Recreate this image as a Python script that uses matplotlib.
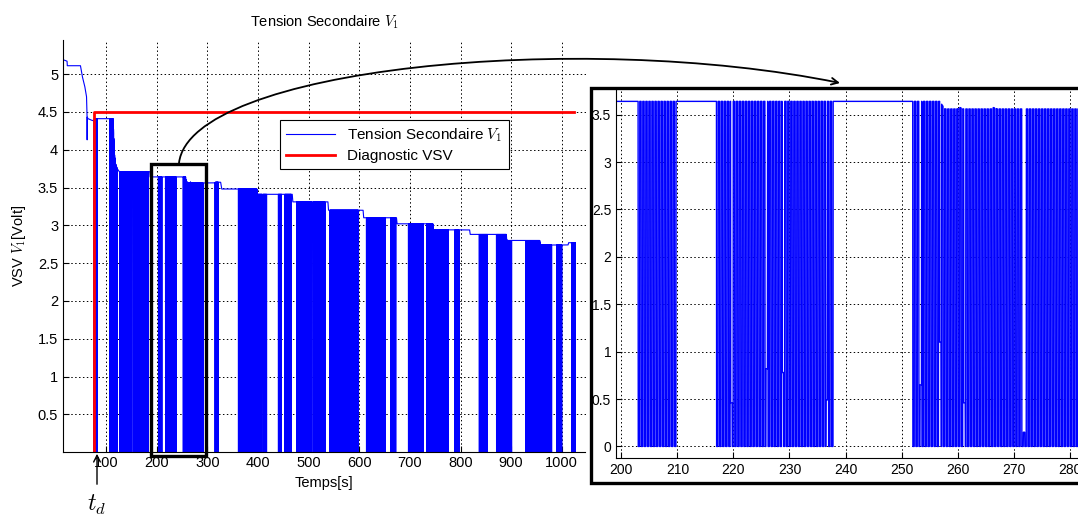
import numpy as np
import matplotlib
matplotlib.use('Agg')
import matplotlib.pyplot as plt
from matplotlib.patches import Rectangle, FancyArrowPatch
from matplotlib.path import Path
from matplotlib.ticker import FormatStrFormatter

plt.rcParams['font.family'] = ['Liberation Sans', 'DejaVu Sans']
plt.rcParams['mathtext.fontset'] = 'cm'

# demarrage : courbe (s, V)
transient_t = [14.5, 22.5, 23, 49, 53, 57.7, 61, 62.0, 62.2, 62.4, 64, 71, 76]
transient_v = [5.19, 5.17, 5.11, 5.11, 4.96, 4.83, 4.70, 4.45, 4.13, 4.43, 4.41, 4.39, 4.38]

# enveloppe haute du signal apres t_d (s, V)
env_t = [76, 113.7, 115.5, 118, 121.5, 125.5, 186, 186.5, 256.8, 257.7, 260, 260.4, 261, 266,
         266.4, 267, 313, 316, 326, 328, 397.5, 398.5, 467.5, 468.5, 538, 539, 607.5, 608.5,
         673.5, 674.5, 745.5, 746.5, 818, 819, 890.5, 891.5, 956.5, 957.5, 1012.5, 1013.5, 1027]
env_v = [4.41, 4.41, 4.0, 3.82, 3.75, 3.71, 3.71, 3.64, 3.64, 3.56, 3.56, 3.575, 3.56, 3.56,
         3.575, 3.56, 3.56, 3.57, 3.57, 3.48, 3.48, 3.41, 3.41, 3.31, 3.31, 3.20, 3.20, 3.10,
         3.10, 3.02, 3.02, 2.94, 2.94, 2.88, 2.88, 2.80, 2.80, 2.74, 2.74, 2.77, 2.77]

# salves de commutation (debut, fin) en s
burst_start = [76, 107, 127, 143, 153, 166, 203, 217, 252, 315, 361, 410, 440, 453, 476, 509,
               542, 614, 662, 697, 733, 789, 837, 871, 929, 990, 1020]
burst_end = [81.5, 122, 140, 150, 163, 183, 210, 238, 291, 321, 407, 417, 446, 465, 506, 532,
             598, 651, 672, 726, 776, 797, 853, 901, 980, 1000, 1027]
half_period = 0.27

# impulsions incompletes (s, V mini)
dip_t = [137, 219.5, 225.8, 228.7, 236.5, 253.3, 256.8, 261.1, 271.7, 363, 415, 441, 742, 750, 840]
dip_v = [0.29, 0.46, 0.82, 0.78, 0.49, 0.65, 1.1, 0.46, 0.15, 0.29, 1.36, 0.82, 0.46, 0.33, 0.21]

# diagnostic VSV
t_d = 75
diag_t = [t_d, t_d, 1024]
diag_v = [0, 4.5, 4.5]

main_xticks = [100, 200, 300, 400, 500, 600, 700, 800, 900, 1000]
main_yticks = [0.5, 1, 1.5, 2, 2.5, 3, 3.5, 4, 4.5, 5]
zoom_xticks = [200, 210, 220, 230, 240, 250, 260, 270, 280]
zoom_yticks = [0, 0.5, 1, 1.5, 2, 2.5, 3, 3.5]


def build_signal():
    t = np.arange(76, 1027, 0.03)
    level = np.interp(t, env_t, env_v)
    v = level.copy()
    for s, e in zip(burst_start, burst_end):
        m = (t >= s) & (t < e)
        phase = np.floor((t[m] - s) / half_period + 1e-6).astype(int) % 2
        v[m] = np.where(phase == 0, 0.0, level[m])
    for td, vmin in zip(dip_t, dip_v):
        m = (t >= td) & (t < td + half_period)
        v[m] = vmin
    t = np.concatenate([transient_t, t])
    v = np.concatenate([transient_v, v])
    return t, v


def style_axes(ax):
    ax.grid(True, color='black', linestyle=(0, (1.5, 2.5)), linewidth=0.7)
    ax.tick_params(direction='in', labelsize=10.5, length=4, color='black')
    ax.yaxis.set_major_formatter(FormatStrFormatter('%g'))


W, H = 1078, 515
fig = plt.figure(figsize=(W / 100, H / 100), dpi=100)

t, v = build_signal()

# axe principal
ax = fig.add_axes([63 / W, 1 - 451.5 / H, 522.5 / W, 411.5 / H])
ax.plot(t, v, color='blue', linewidth=0.8, label='Tension Secondaire $V_1$')
ax.plot(diag_t, diag_v, color='red', linewidth=2.0, label='Diagnostic VSV')
ax.set_xlim(14.5, 1047)
ax.set_ylim(0.01, 5.45)
ax.set_xticks(main_xticks)
ax.set_yticks(main_yticks)
style_axes(ax)
ax.spines['top'].set_visible(False)
ax.spines['right'].set_visible(False)
ax.set_xlabel('Temps[s]', fontsize=10.5, labelpad=4)
ax.set_ylabel('VSV $V_1$[Volt]', fontsize=10.5, labelpad=7)
ax.set_title('Tension Secondaire $V_1$', fontsize=10.5, pad=10)
leg = ax.legend(loc='upper left', bbox_to_anchor=(280 / W, 1 - 120 / H),
                bbox_transform=fig.transFigure, fontsize=11, fancybox=False,
                edgecolor='black', framealpha=1, handlelength=3.2, borderpad=0.4,
                labelspacing=0.35, borderaxespad=0)
leg.get_frame().set_linewidth(0.8)

# rectangle de la zone agrandie
ax.add_patch(Rectangle((187.5, -0.05), 110.5, 3.86, fill=False, edgecolor='black',
                       linewidth=2.4, clip_on=False, zorder=5))

# cadre de l'agrandissement
frame = Rectangle((591 / W, 1 - 483 / H), 0.5, 395 / H, transform=fig.transFigure,
                  facecolor='white', edgecolor='black', linewidth=2.4, zorder=2)
fig.add_artist(frame)

axz = fig.add_axes([616 / W, 1 - 458.3 / H, 465 / W, 368.3 / H])
axz.set_zorder(3)
axz.patch.set_visible(False)
axz.plot(t, v, color='blue', linewidth=1.0)
axz.set_xlim(199.05, 282)
axz.set_ylim(-0.125, 3.76)
axz.set_xticks(zoom_xticks)
axz.set_yticks(zoom_yticks)
style_axes(axz)
axz.tick_params(labelsize=10)
axz.spines['top'].set_visible(False)
axz.spines['right'].set_visible(False)

# fleche courbe vers l'agrandissement
pts = [(179, 163), (190, 68), (580, 30), (840, 83)]
pts = [(x / W, 1 - y / H) for x, y in pts]
path = Path(pts, [Path.MOVETO, Path.CURVE4, Path.CURVE4, Path.CURVE4])
arrow = FancyArrowPatch(path=path, arrowstyle='->', mutation_scale=12, linewidth=1.3,
                        color='black', transform=fig.transFigure, zorder=6)
fig.add_artist(arrow)

# marqueur t_d
fig.add_artist(FancyArrowPatch((97 / W, 1 - 487 / H), (97 / W, 1 - 451 / H),
                               arrowstyle='->', mutation_scale=12, linewidth=1.0,
                               color='black', transform=fig.transFigure, zorder=6))
fig.text(97 / W, 1 - 505 / H, '$t_d$', fontsize=17, ha='center', va='center')

fig.savefig('out.png', dpi=100)
